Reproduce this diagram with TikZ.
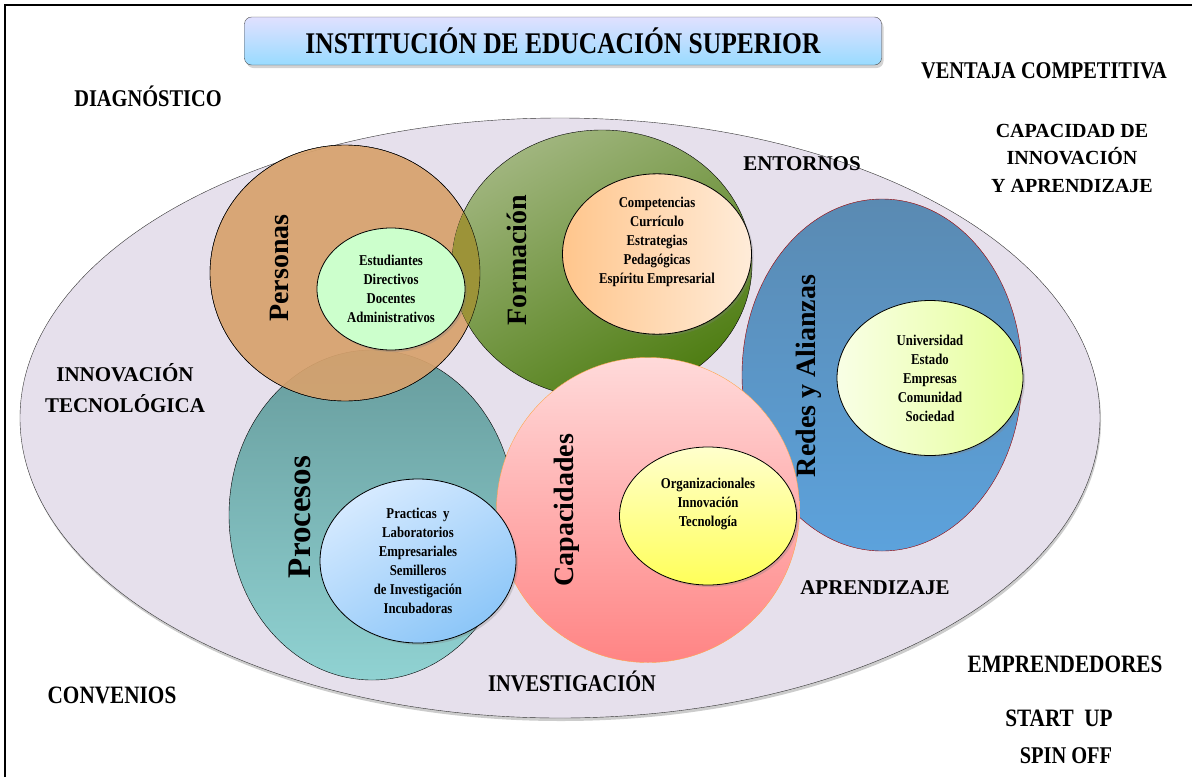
\documentclass[tikz,border=0pt]{standalone}
\usepackage{fontspec}
\setmainfont{Liberation Serif}
\newfontfamily\narrow[FakeStretch=0.85]{Liberation Serif}
\usetikzlibrary{shapes.geometric,shadows}

\definecolor{lavanda}{HTML}{E6E0EC}
\definecolor{tostado}{HTML}{D7A26D}
\definecolor{olivo}{HTML}{9C9338}
\definecolor{verdeA}{HTML}{A0B57E}
\definecolor{verdeB}{HTML}{4E7D12}
\definecolor{tealA}{HTML}{679C9D}
\definecolor{tealB}{HTML}{90D2D2}
\definecolor{rosaA}{HTML}{FFDADA}
\definecolor{rosaB}{HTML}{FF8484}
\definecolor{azulA}{HTML}{5A8AB2}
\definecolor{azulB}{HTML}{5CA2DC}
\definecolor{celesteA}{HTML}{D6EAFF}
\definecolor{celesteB}{HTML}{8CC6F8}

\tikzset{
  etiqueta/.style={font=\narrow\bfseries\fontsize{24}{28}\selectfont, align=center},
  etiquetanormal/.style={font=\bfseries\fontsize{21}{27.5}\selectfont, align=center},
  lista/.style={font=\narrow\bfseries\fontsize{15}{19}\selectfont, align=center},
}

\begin{document}
\begin{tikzpicture}[x=1pt, y=-1pt]
\useasboundingbox (0,0) rectangle (1192,777);
\draw[line width=2pt] (5,777) -- (5,5) -- (1192,5);

% titulo
\node[draw=black!70, rounded corners=7pt, top color=blue!12, bottom color=blue!35!cyan!40,
      minimum width=637pt, minimum height=48pt,
      drop shadow={opacity=0.35, shadow xshift=2pt, shadow yshift=-3pt},
      font=\narrow\bfseries\fontsize{30}{30}\selectfont] (T) at (563,41) {INSTITUCIÓN DE EDUCACIÓN SUPERIOR};

% elipse grande
\node[ellipse, draw=black!80, fill=lavanda, minimum width=1080pt, minimum height=600pt,
      drop shadow={opacity=0.4, shadow xshift=1pt, shadow yshift=-3pt}] (E) at (560,418) {};

% circulos
\begin{scope}[every node/.style={ellipse, draw=black, inner sep=0pt}]
    \node[draw=red!60!black, top color=azulA, bottom color=azulB, minimum width=280pt, minimum height=352pt] (R) at (882,375) {};
    \node[top color=tealA, bottom color=tealB, minimum width=286pt, minimum height=330pt] (Pr) at (372,515) {};
    \node[fill=tostado, fill opacity=0.92, minimum width=270pt, minimum height=256pt] (Pe) at (345,273) {};
    \node[top color=verdeA, bottom color=verdeB, shading angle=30, minimum width=300pt, minimum height=268pt] (F) at (602,264) {};
\end{scope}

\begin{scope}
    \clip (F.center) ellipse [x radius=150pt, y radius=134pt];
    \fill[olivo] (Pe.center) ellipse [x radius=135pt, y radius=128pt];
\end{scope}
\draw (Pe.center) ellipse [x radius=135pt, y radius=128pt];

\node[ellipse, draw=orange!70, top color=rosaA, bottom color=rosaB, minimum width=303pt, minimum height=305pt] (C) at (648,510) {};

% elipses interiores
\begin{scope}[every node/.style={ellipse, draw=black, thick, inner sep=0pt, lista,
              drop shadow={opacity=0.3, shadow xshift=2pt, shadow yshift=-2pt}}]
    \node[fill=green!20, minimum width=148pt, minimum height=122pt] (Pe1) at (391,289) {Estudiantes\\Directivos\\Docentes\\Administrativos};
    \node[left color=orange!45, right color=orange!15, minimum width=189pt, minimum height=147pt] (F1) at (657,254) {Competencias\\Currículo\\Estrategias\\Pedagógicas\\Espíritu Empresarial\\[8pt]};
    \node[top color=celesteA, bottom color=celesteB, shading angle=30, minimum width=196pt, minimum height=164pt] (Pr1) at (418,561) {Practicas\ \ y\\Laboratorios\\Empresariales\\Semilleros\\de Investigación\\Incubadoras};
    \node[top color=yellow!20, bottom color=yellow!65, minimum width=177pt, minimum height=138pt] (C1) at (708,516) {Organizacionales\\Innovación\\Tecnología\\[8pt]};
    \node[left color=lime!10, right color=lime!40, minimum width=186pt, minimum height=155pt] (R1) at (930,378) {Universidad\\Estado\\Empresas\\Comunidad\\Sociedad};
\end{scope}

% nombres de los circulos
\begin{scope}[every node/.style={rotate=90, font=\bfseries\fontsize{28}{28}\selectfont}]
    \node (Pe2) at (279,268) {Personas};
    \node (F2) at (517,260) {Formación};
    \node[font=\bfseries\fontsize{33}{33}\selectfont] (Pr2) at (300,517) {Procesos};
    \node (C2) at (567,510) {Capacidades};
    \node (R2) at (809,376) {Redes y Alianzas};
\end{scope}

% textos de alrededor
\node[etiqueta] (V) at (1044,71) {VENTAJA COMPETITIVA};
\node[etiqueta] (D) at (148,96) {DIAGNÓSTICO};
\node[etiquetanormal, font=\bfseries\fontsize{20}{27.5}\selectfont] (CI) at (1072,158) {CAPACIDAD DE\\INNOVACIÓN\\Y APRENDIZAJE};
\node[etiquetanormal] (En) at (802,164) {ENTORNOS};
\node[etiquetanormal, font=\bfseries\fontsize{21}{31}\selectfont] (IT) at (125,388) {INNOVACIÓN\\TECNOLÓGICA};
\node[etiquetanormal] (Ap) at (875,588) {APRENDIZAJE};
\node[etiqueta] (In) at (572,681) {INVESTIGACIÓN};
\node[etiqueta, font=\narrow\bfseries\fontsize{25}{28}\selectfont] (Em) at (1065,664) {EMPRENDEDORES};
\node[etiqueta, font=\narrow\bfseries\fontsize{25}{28}\selectfont] (Co) at (112,695) {CONVENIOS};
\node[etiqueta, font=\narrow\bfseries\fontsize{25}{28}\selectfont] (SU) at (1059,718) {START\ \ UP};
\node[etiqueta] (SO) at (1066,756) {SPIN OFF};
\end{tikzpicture}
\end{document}
